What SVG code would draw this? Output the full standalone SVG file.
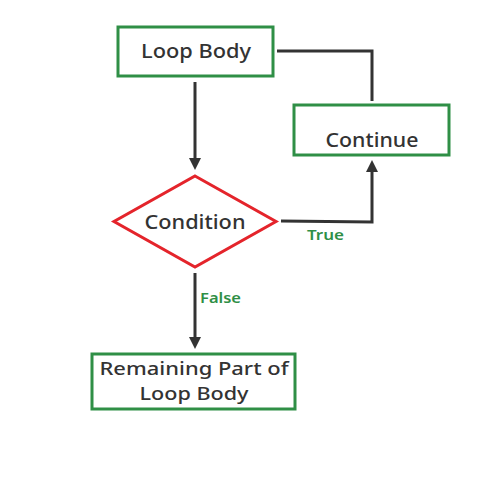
<svg xmlns="http://www.w3.org/2000/svg" width="497" height="497" viewBox="0 0 497 497">
<style>
.box{fill:#fff;stroke:#2f8f46;stroke-width:3}
.dia{fill:#fff;stroke:#e4242b;stroke-width:3}
.t{font-family:"Noto Sans","Liberation Sans",sans-serif;font-weight:500;font-size:20px;fill:#333;text-anchor:middle}
.t2{font-size:18.5px}
.lb{font-family:"Noto Sans","Liberation Sans",sans-serif;font-weight:600;font-size:15px;fill:#2f8f46}
.c{fill:none;stroke:#333;stroke-width:3}
</style>
<defs>
<marker id="ah" markerWidth="4" markerHeight="4" refX="2" refY="2" orient="auto" markerUnits="strokeWidth">
<path d="M0,0 L4,2 L0,4 z" fill="#333"/>
</marker>
</defs>
<rect width="497" height="497" fill="#fff"/>
<g id="connectors">
<path class="c" d="M195,82 V164" marker-end="url(#ah)"/>
<path class="c" d="M277,51 H372 V101"/>
<path class="c" d="M281,221 L372,222 V166" marker-end="url(#ah)"/>
<path class="c" d="M195,273 V343" marker-end="url(#ah)"/>
<text class="lb" x="307" y="240" textLength="37" lengthAdjust="spacingAndGlyphs">True</text>
<text class="lb" x="200" y="303" textLength="41" lengthAdjust="spacingAndGlyphs">False</text>
</g>
<g id="loop-body">
<rect class="box" x="118" y="27" width="155" height="49"/>
<text class="t" x="196" y="58" textLength="110" lengthAdjust="spacingAndGlyphs">Loop Body</text>
</g>
<g id="continue">
<rect class="box" x="294" y="105" width="155" height="50"/>
<text class="t" x="372" y="147" textLength="93" lengthAdjust="spacingAndGlyphs">Continue</text>
</g>
<g id="condition">
<polygon class="dia" points="195,176 276,221.5 195,267 114,221.5"/>
<text class="t" x="195" y="229" textLength="101" lengthAdjust="spacingAndGlyphs">Condition</text>
</g>
<g id="remaining">
<rect class="box" x="92" y="354" width="203" height="55"/>
<text class="t t2" x="194" y="375" textLength="189" lengthAdjust="spacingAndGlyphs">Remaining Part of</text>
<text class="t t2" x="194" y="400" textLength="109" lengthAdjust="spacingAndGlyphs">Loop Body</text>
</g>
</svg>
